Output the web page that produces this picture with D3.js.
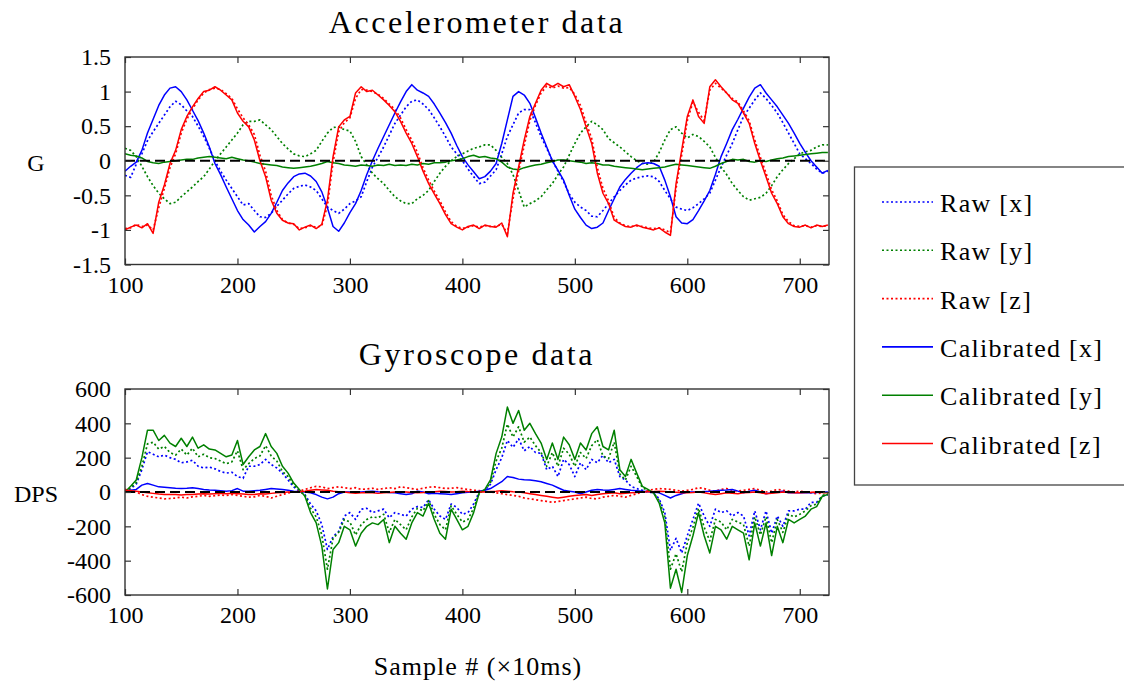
<!DOCTYPE html>
<html>
<head>
<meta charset="utf-8">
<script src="https://cdn.jsdelivr.net/npm/d3@7"></script>
<style>
  body { margin: 0; background: #fff; }
  svg { display: block; }
  text { font-family: 'Liberation Serif', 'Times New Roman', 'DejaVu Serif', serif; fill: #000; }
</style>
</head>
<body>
<svg id="svg0" width="1124" height="683"></svg>
<script>
// sample index, every 5th sample (x 10ms)
var samples = d3.range(100, 726, 5);

// accelerometer, G
var accRawX = [
  -0.21, -0.24, -0.05, 0.10, 0.29, 0.42, 0.54, 0.66, 0.78, 0.86,
  0.81, 0.72, 0.64, 0.50, 0.35, 0.18, 0.00, -0.15, -0.28, -0.40,
  -0.52, -0.64, -0.62, -0.72, -0.81, -0.82, -0.76, -0.66, -0.57, -0.48,
  -0.40, -0.37, -0.35, -0.38, -0.43, -0.55, -0.67, -0.72, -0.76, -0.70,
  -0.62, -0.58, -0.52, -0.30, -0.09, 0.05, 0.20, 0.37, 0.54, 0.66,
  0.78, 0.86, 0.88, 0.82, 0.74, 0.62, 0.49, 0.35, 0.20, 0.10,
  0.00, -0.12, -0.23, -0.33, -0.31, -0.22, -0.13, 0.10, 0.35, 0.52,
  0.69, 0.74, 0.74, 0.55, 0.35, 0.18, 0.00, -0.15, -0.30, -0.48,
  -0.60, -0.67, -0.72, -0.80, -0.81, -0.72, -0.62, -0.52, -0.43, -0.35,
  -0.28, -0.25, -0.23, -0.22, -0.23, -0.30, -0.43, -0.55, -0.67, -0.70,
  -0.72, -0.68, -0.62, -0.55, -0.47, -0.28, -0.09, 0.08, 0.25, 0.45,
  0.64, 0.76, 0.88, 0.98, 0.90, 0.80, 0.69, 0.55, 0.40, 0.25,
  0.10, 0.03, -0.04, -0.12, -0.18, -0.15
];
var accRawY = [
  0.18, 0.15, 0.06, -0.08, -0.23, -0.36, -0.47, -0.55, -0.62, -0.60,
  -0.52, -0.45, -0.38, -0.30, -0.23, -0.12, 0.00, 0.10, 0.20, 0.30,
  0.40, 0.52, 0.57, 0.57, 0.59, 0.52, 0.45, 0.35, 0.25, 0.17,
  0.10, 0.07, 0.06, 0.10, 0.15, 0.28, 0.40, 0.48, 0.49, 0.45,
  0.43, 0.28, 0.06, -0.06, -0.18, -0.26, -0.33, -0.43, -0.52, -0.58,
  -0.62, -0.62, -0.55, -0.50, -0.43, -0.30, -0.18, -0.08, 0.00, 0.06,
  0.10, 0.14, 0.18, 0.20, 0.23, 0.23, 0.15, 0.05, -0.04, -0.20,
  -0.43, -0.67, -0.62, -0.58, -0.52, -0.42, -0.33, -0.20, -0.09, 0.08,
  0.25, 0.40, 0.49, 0.57, 0.52, 0.45, 0.32, 0.26, 0.20, 0.13,
  0.06, 0.00, -0.04, -0.05, -0.02, 0.12, 0.30, 0.45, 0.49, 0.40,
  0.33, 0.38, 0.35, 0.28, 0.20, 0.05, -0.09, -0.20, -0.33, -0.43,
  -0.52, -0.57, -0.55, -0.53, -0.47, -0.36, -0.23, -0.13, -0.04, 0.03,
  0.10, 0.13, 0.15, 0.20, 0.23, 0.23
];
var accRawZ = [
  -0.98, -0.97, -0.92, -0.95, -0.93, -1.00, -0.68, -0.40, -0.10, 0.10,
  0.40, 0.60, 0.75, 0.88, 0.98, 1.03, 1.05, 1.03, 0.97, 0.90,
  0.75, 0.62, 0.52, 0.38, 0.08, -0.15, -0.50, -0.72, -0.85, -0.90,
  -0.92, -0.98, -0.97, -0.94, -0.96, -0.94, -0.65, -0.02, 0.42, 0.55,
  0.62, 0.90, 1.03, 1.02, 1.00, 0.96, 0.90, 0.82, 0.74, 0.62,
  0.45, 0.30, 0.12, -0.10, -0.28, -0.44, -0.58, -0.74, -0.88, -0.95,
  -0.98, -0.96, -0.94, -0.96, -0.94, -0.95, -0.95, -0.92, -1.05, -0.55,
  -0.15, 0.22, 0.58, 0.80, 0.98, 1.08, 1.05, 1.08, 1.05, 1.06,
  0.96, 0.80, 0.55, 0.32, -0.10, -0.40, -0.58, -0.82, -0.90, -0.94,
  -0.95, -0.94, -0.95, -0.97, -0.98, -0.97, -1.00, -1.04, -0.40, 0.08,
  0.58, 0.85, 0.70, 0.58, 1.02, 1.12, 1.05, 0.98, 0.90, 0.85,
  0.72, 0.58, 0.30, 0.05, -0.18, -0.42, -0.58, -0.78, -0.88, -0.94,
  -0.95, -0.94, -0.96, -0.94, -0.95, -0.94
];
var accCalX = [
  -0.15, -0.08, -0.02, 0.15, 0.40, 0.60, 0.80, 0.95, 1.05, 1.07,
  1.00, 0.88, 0.73, 0.58, 0.40, 0.20, -0.04, -0.20, -0.38, -0.55,
  -0.72, -0.85, -0.93, -1.03, -0.95, -0.88, -0.76, -0.60, -0.43, -0.32,
  -0.23, -0.19, -0.18, -0.22, -0.30, -0.45, -0.68, -0.95, -1.02, -0.90,
  -0.75, -0.62, -0.43, -0.20, 0.00, 0.18, 0.35, 0.52, 0.69, 0.85,
  1.00, 1.10, 1.02, 0.98, 0.93, 0.82, 0.69, 0.55, 0.40, 0.22,
  0.06, -0.06, -0.16, -0.26, -0.23, -0.15, -0.04, 0.25, 0.59, 0.93,
  1.00, 0.95, 0.83, 0.62, 0.40, 0.20, 0.00, -0.14, -0.28, -0.50,
  -0.70, -0.82, -0.93, -0.98, -0.96, -0.90, -0.72, -0.55, -0.38, -0.27,
  -0.18, -0.10, -0.04, -0.03, -0.04, -0.08, -0.28, -0.52, -0.81, -0.90,
  -0.91, -0.85, -0.72, -0.58, -0.43, -0.20, 0.06, 0.25, 0.45, 0.60,
  0.76, 0.92, 1.05, 1.10, 0.98, 0.88, 0.78, 0.66, 0.54, 0.40,
  0.25, 0.12, 0.00, -0.09, -0.18, -0.14
];
var accCalY = [
  0.10, 0.08, 0.07, 0.04, -0.01, -0.03, -0.04, -0.02, -0.01, 0.00,
  0.01, 0.02, 0.02, 0.04, 0.05, 0.06, 0.05, 0.04, 0.03, 0.05,
  0.03, 0.01, 0.00, -0.02, -0.04, -0.05, -0.06, -0.07, -0.09, -0.10,
  -0.11, -0.10, -0.09, -0.08, -0.06, -0.04, -0.01, -0.03, -0.04, -0.06,
  -0.07, -0.08, -0.06, -0.07, -0.08, -0.06, -0.07, -0.05, -0.07, -0.06,
  -0.07, -0.05, -0.06, -0.04, -0.05, -0.03, -0.03, -0.02, 0.00, 0.01,
  0.03, 0.06, 0.08, 0.05, 0.06, 0.04, 0.03, -0.02, -0.09, -0.12,
  -0.13, -0.10, -0.08, -0.06, -0.05, -0.03, -0.01, 0.01, 0.01, 0.00,
  -0.01, -0.02, -0.04, -0.03, -0.04, -0.06, -0.06, -0.08, -0.09, -0.10,
  -0.11, -0.12, -0.13, -0.12, -0.11, -0.10, -0.09, -0.07, -0.05, -0.06,
  -0.07, -0.08, -0.09, -0.10, -0.11, -0.08, -0.04, -0.01, 0.02, 0.01,
  0.02, -0.01, -0.02, 0.00, -0.01, 0.01, 0.03, 0.04, 0.06, 0.07,
  0.08, 0.09, 0.10, 0.11, 0.12, 0.12
];
var accCalZ = [
  -1.00, -0.96, -0.93, -0.97, -0.91, -1.05, -0.60, -0.35, -0.04, 0.15,
  0.45, 0.64, 0.78, 0.90, 1.00, 1.02, 1.07, 1.02, 0.95, 0.88,
  0.69, 0.57, 0.49, 0.30, 0.00, -0.23, -0.57, -0.76, -0.86, -0.90,
  -0.91, -1.00, -0.96, -0.93, -0.98, -0.92, -0.57, 0.06, 0.49, 0.59,
  0.64, 0.98, 1.07, 1.00, 1.02, 0.95, 0.88, 0.80, 0.71, 0.57,
  0.40, 0.25, 0.06, -0.15, -0.33, -0.48, -0.62, -0.78, -0.91, -0.96,
  -1.00, -0.95, -0.93, -0.98, -0.93, -0.95, -0.96, -0.90, -1.10, -0.47,
  -0.09, 0.30, 0.64, 0.83, 1.02, 1.12, 1.07, 1.12, 1.07, 1.10,
  0.93, 0.74, 0.49, 0.25, -0.18, -0.47, -0.62, -0.86, -0.91, -0.95,
  -0.96, -0.93, -0.96, -0.98, -1.00, -0.97, -1.03, -1.08, -0.33, 0.15,
  0.64, 0.88, 0.64, 0.54, 1.07, 1.17, 1.07, 0.98, 0.88, 0.83,
  0.69, 0.54, 0.25, 0.00, -0.23, -0.47, -0.62, -0.81, -0.91, -0.95,
  -0.96, -0.93, -0.97, -0.93, -0.95, -0.93
];

// gyroscope, DPS
var gyrRawX = [
  0, 20, 45, 130, 235, 220, 205, 215, 200, 190,
  170, 175, 185, 150, 140, 145, 135, 120, 110, 115,
  90, 80, 150, 150, 160, 190, 160, 140, 110, 70,
  30, 5, -15, -70, -110, -190, -335, -260, -230, -140,
  -120, -160, -100, -95, -120, -110, -100, -150, -120, -130,
  -140, -100, -85, -90, -45, -100, -140, -160, -70, -90,
  -130, -120, -70, 0, 10, 45, 130, 200, 300, 260,
  310, 240, 265, 230, 225, 130, 150, 90, 190, 160,
  90, 170, 130, 190, 170, 215, 170, 190, 90, 70,
  33, 20, 10, 0, -5, -40, -120, -340, -270, -355,
  -255, -160, -65, -140, -200, -100, -120, -110, -140, -120,
  -140, -255, -110, -220, -110, -240, -140, -200, -110, -110,
  -100, -100, -60, -60, -25, -15
];
var gyrRawY = [
  0, 25, 55, 150, 280, 290, 250, 265, 230, 215,
  250, 215, 255, 205, 220, 200, 195, 180, 165, 175,
  240, 130, 165, 195, 210, 270, 210, 180, 120, 90,
  40, 10, -20, -95, -145, -250, -450, -270, -235, -160,
  -175, -250, -190, -160, -145, -150, -130, -235, -160, -190,
  -220, -145, -95, -110, -50, -130, -190, -220, -80, -130,
  -175, -160, -95, -5, 10, 55, 180, 255, 395, 320,
  380, 290, 320, 270, 230, 150, 230, 150, 255, 220,
  150, 230, 195, 270, 305, 210, 195, 290, 105, 70,
  150, 90, 25, 10, -5, -50, -145, -450, -360, -465,
  -295, -205, -95, -205, -285, -160, -175, -220, -160, -175,
  -190, -315, -145, -250, -145, -295, -160, -235, -130, -145,
  -130, -110, -80, -70, -20, -10
];
var gyrRawZ = [
  15, 10, 0, -15, -25, -30, -35, -40, -38, -35,
  -30, -35, -28, -25, -20, -25, -22, -18, -20, -15,
  -20, -25, -30, -28, -20, -25, -35, -25, -15, -5,
  0, 5, 15, 25, 33, 30, 20, 25, 30, 25,
  20, 25, 15, 18, 22, 15, 20, 25, 20, 30,
  25, 20, 15, 22, 28, 30, 25, 20, 22, 25,
  20, 15, 10, 8, 5, 0, -5, -10, -15, -20,
  -25, -35, -40, -45, -50, -55, -60, -55, -50, -45,
  -40, -35, -30, -38, -40, -30, -25, -20, -25, -30,
  -20, -10, 0, 10, 15, 20, 18, 15, 10, 5,
  10, 15, 25, 20, 10, 5, 15, 20, 10, 5,
  10, 15, 20, 10, 0, 5, 15, 10, 5, 0,
  5, 0, -5, -10, -5, 0
];
var gyrCalX = [
  5, 10, 15, 40, 50, 40, 30, 28, 25, 22,
  20, 22, 25, 20, 15, 12, 10, 8, 5, 8,
  20, 5, 5, 8, 10, 15, 20, 18, 15, 10,
  5, 2, 0, -5, -15, -30, -40, -30, -10, 0,
  0, 2, 0, 3, 5, 2, 0, -3, -5, -10,
  -15, -10, 5, 0, -10, -8, -10, -12, -15, -10,
  -5, -2, 0, 5, 10, 20, 40, 60, 90, 85,
  75, 72, 70, 65, 60, 50, 40, 25, 10, 5,
  0, -10, 0, 10, 15, 12, 10, 15, 20, 15,
  10, 8, 5, 2, 0, -5, -20, -35, -20, -10,
  0, 0, 0, 3, 5, 8, 10, 12, 15, 5,
  -5, 5, 10, 0, -10, -5, 0, 5, -5, -3,
  -5, -5, -5, -3, 0, 0
];
var gyrCalY = [
  0, 33, 70, 200, 360, 360, 300, 330, 285, 265,
  313, 265, 320, 255, 275, 250, 245, 225, 205, 215,
  300, 160, 205, 245, 265, 340, 265, 225, 150, 110,
  52, 15, -25, -120, -180, -315, -565, -335, -295, -200,
  -220, -315, -240, -200, -180, -190, -160, -295, -200, -240,
  -275, -180, -120, -140, -65, -160, -240, -275, -100, -160,
  -220, -200, -120, -5, 15, 70, 225, 320, 495, 400,
  475, 360, 400, 340, 285, 190, 285, 190, 320, 275,
  190, 285, 245, 340, 380, 265, 245, 360, 130, 90,
  190, 110, 33, 15, -5, -65, -180, -560, -450, -585,
  -370, -255, -120, -255, -355, -200, -220, -275, -200, -220,
  -240, -395, -180, -315, -180, -370, -200, -295, -160, -180,
  -160, -140, -100, -85, -25, -15
];
var gyrCalZ = [
  10, 8, 5, 0, -5, -8, -12, -15, -15, -15,
  -18, -15, -15, -12, -10, -12, -10, -8, -10, -8,
  -10, -12, -15, -15, -10, -12, -8, -5, -3, 0,
  0, 2, 5, 10, 14, 12, 10, 5, 2, 0,
  -5, -8, -5, -3, -5, -8, -5, -3, 0, 2,
  0, -3, -5, -3, 0, 2, 5, 3, 0, 2,
  5, 3, 2, 0, 0, 3, 5, 8, 5, 2,
  0, -5, -10, -15, -20, -25, -30, -35, -30, -25,
  -20, -18, -15, -20, -15, -10, -8, -5, -10, -8,
  -5, -3, 0, 2, 3, 5, 3, 0, -2, -5,
  -5, -3, 0, -5, -10, -15, -10, -5, -8, -10,
  -5, -3, 0, -5, -10, -8, -5, 0, -3, -5,
  -5, -3, -2, 0, -3, -5
];

var xTicks = [100, 200, 300, 400, 500, 600, 700];
var accTicks = [-1.5, -1, -0.5, 0, 0.5, 1, 1.5];
var gyrTicks = [-600, -400, -200, 0, 200, 400, 600];
var legendLabels = ['Raw [x]', 'Raw [y]', 'Raw [z]', 'Calibrated [x]', 'Calibrated [y]', 'Calibrated [z]'];

// line styles, same order as the legend
var colors = ['#0000ff', '#008000', '#ff0000', '#0000ff', '#008000', '#ff0000'];
var dashes = ['2,2.5', '2,2.5', '2,2.5', null, null, null];

var serif = "'Liberation Serif', 'Times New Roman', 'DejaVu Serif', serif";
var plotLeft = 125;
var plotRight = 829;

var svg0 = d3.select('#svg0');

svg0.append('rect')
    .attr('width', 1124)
    .attr('height', 683)
    .attr('fill', 'white');

var x = d3.scaleLinear()
    .domain([100, 726])
    .range([plotLeft, plotRight]);

function drawPanel(id, top, bottom, domain, ticks, series, title, ylabel, ylabelY) {
    var y = d3.scaleLinear()
        .domain(domain)
        .range([bottom, top]);

    var g = svg0.append('g').attr('id', id);

    g.append('clipPath')
        .attr('id', id + 'clip')
        .append('rect')
        .attr('x', plotLeft)
        .attr('y', top)
        .attr('width', plotRight - plotLeft)
        .attr('height', bottom - top);

    var line = d3.line()
        .x(function (d, i) { return x(samples[i]); })
        .y(function (d) { return y(d); });

    var lines = g.append('g').attr('clip-path', 'url(#' + id + 'clip)');

    lines.selectAll('path')
        .data(series)
        .enter()
        .append('path')
        .attr('d', line)
        .attr('fill', 'none')
        .attr('stroke', function (d, i) { return colors[i]; })
        .attr('stroke-width', function (d, i) { return dashes[i] ? 1.7 : 1.5; })
        .attr('stroke-dasharray', function (d, i) { return dashes[i]; })
        .attr('stroke-linejoin', 'round');

    // zero line
    lines.append('line')
        .attr('x1', plotLeft)
        .attr('x2', plotRight)
        .attr('y1', y(0))
        .attr('y2', y(0))
        .attr('stroke', 'black')
        .attr('stroke-width', 2)
        .attr('stroke-dasharray', '10,5');

    // axes, ticks pointing inward
    var axB = g.append('g')
        .attr('transform', 'translate(0,' + bottom + ')')
        .call(d3.axisBottom(x).tickValues(xTicks).tickSize(-6).tickPadding(11).tickFormat(d3.format('d')));
    var axT = g.append('g')
        .attr('transform', 'translate(0,' + top + ')')
        .call(d3.axisTop(x).tickValues(xTicks).tickSize(-6).tickFormat(''));
    var axL = g.append('g')
        .attr('transform', 'translate(' + plotLeft + ',0)')
        .call(d3.axisLeft(y).tickValues(ticks).tickSize(-6).tickPadding(14).tickFormat(function (d) { return String(d); }));
    var axR = g.append('g')
        .attr('transform', 'translate(' + plotRight + ',0)')
        .call(d3.axisRight(y).tickValues(ticks).tickSize(-6).tickFormat(''));

    [axB, axT, axL, axR].forEach(function (a) {
        a.attr('font-family', null);
        a.select('.domain').remove();
        a.selectAll('line').attr('stroke', '#333').attr('stroke-width', 1.2);
        a.selectAll('text')
            .style('font-family', serif)
            .attr('font-size', 24)
            .attr('fill', 'black');
    });

    g.append('rect')
        .attr('x', plotLeft)
        .attr('y', top)
        .attr('width', plotRight - plotLeft)
        .attr('height', bottom - top)
        .attr('fill', 'none')
        .attr('stroke', '#333')
        .attr('stroke-width', 1.4);

    g.append('text')
        .attr('x', 477)
        .attr('y', top - 24)
        .attr('text-anchor', 'middle')
        .style('font-family', serif)
        .attr('font-size', 32)
        .attr('letter-spacing', 2.6)
        .text(title);

    g.append('text')
        .attr('x', 36)
        .attr('y', ylabelY)
        .attr('text-anchor', 'middle')
        .style('font-family', serif)
        .attr('font-size', 24)
        .text(ylabel);
}

drawPanel('acc', 57, 264.5, [-1.5, 1.5], accTicks,
    [accRawX, accRawY, accRawZ, accCalX, accCalY, accCalZ],
    'Accelerometer data', 'G', 171);

drawPanel('gyr', 389, 595, [-600, 600], gyrTicks,
    [gyrRawX, gyrRawY, gyrRawZ, gyrCalX, gyrCalY, gyrCalZ],
    'Gyroscope data', 'DPS', 502);

svg0.append('text')
    .attr('x', 478)
    .attr('y', 675)
    .attr('text-anchor', 'middle')
    .style('font-family', serif)
    .attr('font-size', 26)
    .attr('letter-spacing', 1.0)
    .text('Sample # (\u00d710ms)');

// legend
var legend = svg0.append('g');

legend.append('rect')
    .attr('x', 854.5)
    .attr('y', 167)
    .attr('width', 300)
    .attr('height', 318)
    .attr('fill', 'white')
    .attr('stroke', '#444')
    .attr('stroke-width', 1.3);

var items = legend.selectAll('g.item')
    .data(legendLabels)
    .enter()
    .append('g')
    .attr('class', 'item')
    .attr('transform', function (d, i) { return 'translate(0,' + (202 + i * 48.3) + ')'; });

items.append('line')
    .attr('x1', 882)
    .attr('x2', 933)
    .attr('stroke', function (d, i) { return colors[i]; })
    .attr('stroke-width', 1.6)
    .attr('stroke-dasharray', function (d, i) { return dashes[i]; });

items.append('text')
    .attr('x', 940)
    .attr('y', 10)
    .style('font-family', serif)
    .attr('font-size', 26)
    .attr('letter-spacing', 1.3)
    .text(function (d) { return d; });
</script>
</body>
</html>
